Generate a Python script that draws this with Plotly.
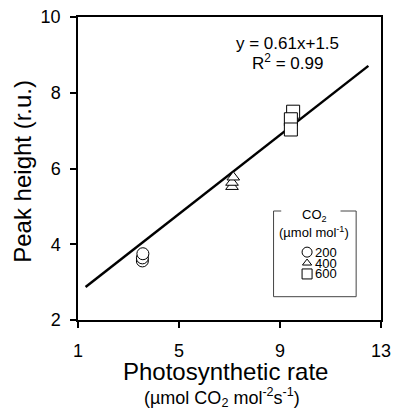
import plotly.graph_objects as go

# ---- data ----
co2_200_x = [3.55, 3.55, 3.57]
co2_200_y = [3.56, 3.64, 3.75]
co2_400_x = [7.10, 7.10, 7.15]
co2_400_y = [5.52, 5.63, 5.77]
co2_600_x = [9.52, 9.43, 9.43]
co2_600_y = [7.50, 7.30, 7.03]
fit_x = [1.30, 12.50]
fit_y = [2.87, 8.71]
x_ticks = [1, 5, 9, 13]
y_ticks = [2, 4, 6, 8, 10]
legend_labels = ["200", "400", "600"]
legend_symbols = ["circle-open", "triangle-up-open", "square-open"]

FONT = "Liberation Sans, Arial, sans-serif"

fig = go.Figure()

fig.add_trace(go.Scatter(x=fit_x, y=fit_y, mode="lines",
                         line=dict(color="black", width=2.5), showlegend=False))

marker_common = dict(color="white", line=dict(color="black", width=1))
fig.add_trace(go.Scatter(x=co2_200_x, y=co2_200_y, mode="markers", showlegend=False,
                         marker=dict(symbol="circle", size=12, **marker_common)))
fig.add_trace(go.Scatter(x=co2_400_x, y=co2_400_y, mode="markers", showlegend=False,
                         marker=dict(symbol="triangle-up", size=11, **marker_common)))
fig.add_trace(go.Scatter(x=co2_600_x, y=co2_600_y, mode="markers", showlegend=False,
                         marker=dict(symbol="square", size=13, **marker_common)))

# ---- custom legend (paper-coordinate overlay axes) ----
leg_left, leg_right, leg_top, leg_bottom = 0.6454, 0.918, 0.3597, 0.0769
leg_sym_x = 0.7560
leg_text_x = 0.7800
leg_rows_y = [0.2240, 0.1880, 0.1520]
leg_sizes = [10, 8, 10]
for sym, lab, yy, sz in zip(legend_symbols, legend_labels, leg_rows_y, leg_sizes):
    fig.add_trace(go.Scatter(x=[leg_sym_x], y=[yy], xaxis="x2", yaxis="y2", mode="markers",
                             showlegend=False, cliponaxis=False,
                             marker=dict(symbol=sym, size=sz, color="black",
                                         line=dict(color="black", width=1))))
    fig.add_annotation(x=leg_text_x, y=yy, xref="paper", yref="paper", text=lab,
                       showarrow=False, xanchor="left", yanchor="middle", borderpad=0,
                       font=dict(family=FONT, size=13, color="black"))

fig.add_annotation(x=0.7806, y=0.345, xref="paper", yref="paper",
                   text="CO<sub>2</sub>", showarrow=False, xanchor="center", yanchor="middle",
                   font=dict(family=FONT, size=13, color="black"))
fig.add_annotation(x=0.779, y=0.2914, xref="paper", yref="paper",
                   text="(µmol mol<sup>-1</sup>)", showarrow=False, xanchor="center", yanchor="middle",
                   font=dict(family=FONT, size=13, color="black"))

lc = dict(color="#444", width=1)
for x0, y0, x1, y1 in [(leg_left, leg_top, 0.6707, leg_top),
                       (0.8664, leg_top, leg_right, leg_top),
                       (leg_left, leg_top, leg_left, leg_bottom),
                       (leg_right, leg_top, leg_right, leg_bottom),
                       (leg_left, leg_bottom, leg_right, leg_bottom)]:
    fig.add_shape(type="line", xref="paper", yref="paper", x0=x0, y0=y0, x1=x1, y1=y1, line=lc)

# ---- equation ----
fig.add_annotation(x=0.6917, y=0.9132, xref="paper", yref="paper", text="y = 0.61x+1.5",
                   showarrow=False, xanchor="center", yanchor="middle",
                   font=dict(family=FONT, size=17, color="black"))
fig.add_annotation(x=0.6917, y=0.8508, xref="paper", yref="paper", text="R<sup>2</sup> = 0.99",
                   showarrow=False, xanchor="center", yanchor="middle",
                   font=dict(family=FONT, size=17, color="black"))

# ---- axis titles ----
fig.add_annotation(x=-0.1857, y=0.4917, xref="paper", yref="paper", text="Peak height (r.u.)",
                   textangle=-90, showarrow=False, xanchor="center", yanchor="middle",
                   font=dict(family=FONT, size=24, color="black"))
fig.add_annotation(x=0.4868, y=-0.1700, xref="paper", yref="paper", text="Photosynthetic rate",
                   showarrow=False, xanchor="center", yanchor="middle",
                   font=dict(family=FONT, size=24, color="black"))
fig.add_annotation(x=0.4756, y=-0.2560, xref="paper", yref="paper",
                   text="(µmol CO<sub>2</sub> mol<sup>-2</sup>s<sup>-1</sup>)",
                   showarrow=False, xanchor="center", yanchor="middle",
                   font=dict(family=FONT, size=18, color="black"))

axis_common = dict(showgrid=False, zeroline=False, showline=True, linecolor="black",
                   linewidth=1.5, mirror=True, ticks="outside", ticklen=6, tickwidth=1.5,
                   tickcolor="black", automargin=False,
                   tickfont=dict(family=FONT, size=18, color="black"))

fig.update_layout(
    width=395, height=410,
    margin=dict(l=78, r=13.5, t=17, b=90, autoexpand=False),
    paper_bgcolor="white", plot_bgcolor="white",
    showlegend=False,
    xaxis=dict(range=[1, 13], tickvals=x_ticks, ticklabelstandoff=8, **axis_common),
    yaxis=dict(range=[2, 10], tickvals=y_ticks, ticklabelstandoff=6, **axis_common),
    xaxis2=dict(domain=[0, 1], range=[0, 1], visible=False, anchor="y2", overlaying="x",
                automargin=False),
    yaxis2=dict(domain=[0, 1], range=[0, 1], visible=False, anchor="x2", overlaying="y",
                automargin=False),
)

fig.write_html("out.html")
